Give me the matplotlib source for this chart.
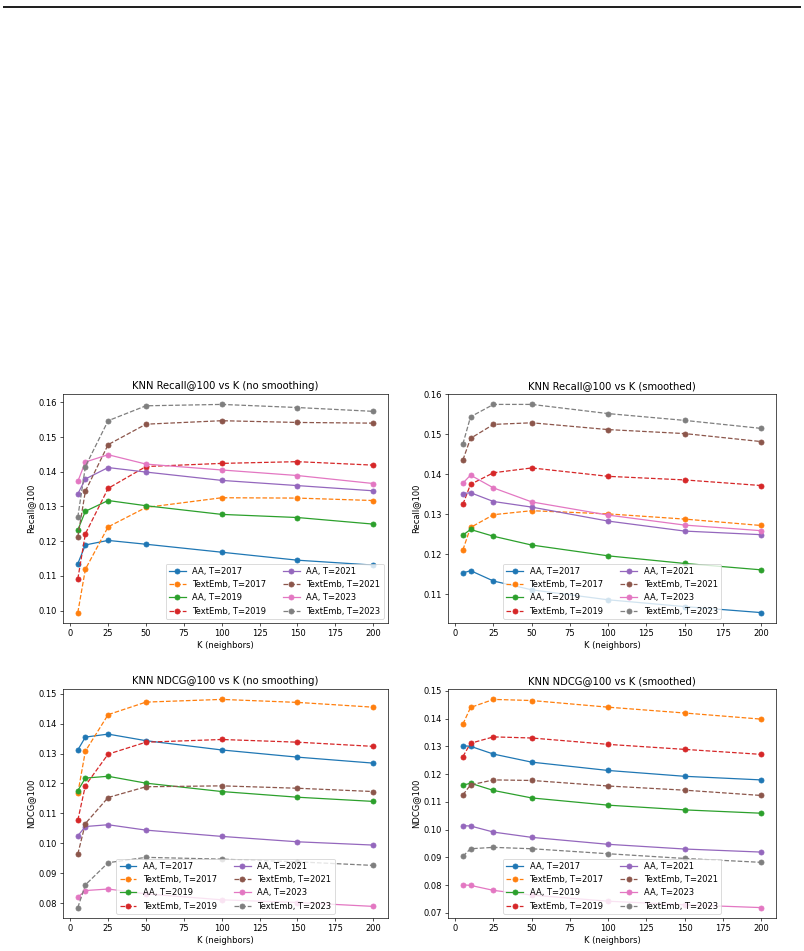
import matplotlib
matplotlib.use("Agg")
import matplotlib.pyplot as plt
from matplotlib.lines import Line2D

K = [5, 10, 25, 50, 100, 150, 200]
years = [2017, 2019, 2021, 2023]

# Recall@100, no smoothing
rec_raw_aa = {
    2017: [0.1135, 0.1189, 0.1202, 0.1191, 0.1168, 0.1145, 0.1131],
    2019: [0.1232, 0.1286, 0.1317, 0.1302, 0.1277, 0.1268, 0.1249],
    2021: [0.1336, 0.1379, 0.1412, 0.1399, 0.1375, 0.1360, 0.1345],
    2023: [0.1372, 0.1428, 0.1449, 0.1422, 0.1405, 0.1389, 0.1366],
}
rec_raw_te = {
    2017: [0.0994, 0.1119, 0.1241, 0.1297, 0.1325, 0.1324, 0.1317],
    2019: [0.1091, 0.1221, 0.1352, 0.1415, 0.1424, 0.1429, 0.1419],
    2021: [0.1212, 0.1344, 0.1478, 0.1537, 0.1547, 0.1542, 0.1540],
    2023: [0.1269, 0.1415, 0.1547, 0.1590, 0.1594, 0.1585, 0.1574],
}

# Recall@100, smoothed
rec_sm_aa = {
    2017: [0.1153, 0.1159, 0.1133, 0.1111, 0.1086, 0.1069, 0.1054],
    2019: [0.1248, 0.1262, 0.1245, 0.1223, 0.1196, 0.1177, 0.1161],
    2021: [0.1352, 0.1354, 0.1332, 0.1318, 0.1283, 0.1258, 0.1249],
    2023: [0.1378, 0.1398, 0.1366, 0.1331, 0.1298, 0.1273, 0.1259],
}
rec_sm_te = {
    2017: [0.1211, 0.1267, 0.1299, 0.1309, 0.1301, 0.1288, 0.1272],
    2019: [0.1325, 0.1375, 0.1404, 0.1416, 0.1395, 0.1386, 0.1372],
    2021: [0.1436, 0.1490, 0.1525, 0.1529, 0.1512, 0.1502, 0.1482],
    2023: [0.1476, 0.1544, 0.1575, 0.1575, 0.1552, 0.1535, 0.1515],
}

# NDCG@100, no smoothing
ndcg_raw_aa = {
    2017: [0.1312, 0.1355, 0.1365, 0.1343, 0.1312, 0.1288, 0.1268],
    2019: [0.1176, 0.1218, 0.1224, 0.1201, 0.1173, 0.1154, 0.1140],
    2021: [0.1025, 0.1056, 0.1062, 0.1044, 0.1023, 0.1005, 0.0994],
    2023: [0.0820, 0.0842, 0.0847, 0.0831, 0.0811, 0.0802, 0.0789],
}
ndcg_raw_te = {
    2017: [0.1167, 0.1308, 0.1430, 0.1472, 0.1481, 0.1471, 0.1455],
    2019: [0.1077, 0.1193, 0.1298, 0.1338, 0.1347, 0.1338, 0.1324],
    2021: [0.0964, 0.1066, 0.1153, 0.1189, 0.1192, 0.1184, 0.1173],
    2023: [0.0785, 0.0861, 0.0935, 0.0953, 0.0947, 0.0938, 0.0926],
}

# NDCG@100, smoothed
ndcg_sm_aa = {
    2017: [0.1302, 0.1300, 0.1272, 0.1243, 0.1213, 0.1192, 0.1179],
    2019: [0.1160, 0.1167, 0.1141, 0.1114, 0.1088, 0.1071, 0.1059],
    2021: [0.1014, 0.1013, 0.0991, 0.0972, 0.0947, 0.0930, 0.0919],
    2023: [0.0801, 0.0799, 0.0781, 0.0764, 0.0742, 0.0729, 0.0719],
}
ndcg_sm_te = {
    2017: [0.1380, 0.1440, 0.1469, 0.1465, 0.1441, 0.1420, 0.1398],
    2019: [0.1263, 0.1311, 0.1334, 0.1330, 0.1307, 0.1289, 0.1271],
    2021: [0.1125, 0.1161, 0.1179, 0.1177, 0.1157, 0.1142, 0.1123],
    2023: [0.0904, 0.0931, 0.0936, 0.0931, 0.0913, 0.0896, 0.0882],
}

panels = [
    ("KNN Recall@100 vs K (no smoothing)", "Recall@100", rec_raw_aa, rec_raw_te, "lower right",
     [0.0784, 0.3449, 0.4042, 0.2408]),
    ("KNN Recall@100 vs K (smoothed)", "Recall@100", rec_sm_aa, rec_sm_te, "lower center",
     [0.5572, 0.3449, 0.4080, 0.2408]),
    ("KNN NDCG@100 vs K (no smoothing)", "NDCG@100", ndcg_raw_aa, ndcg_raw_te, "lower center",
     [0.0784, 0.0347, 0.4042, 0.2408]),
    ("KNN NDCG@100 vs K (smoothed)", "NDCG@100", ndcg_sm_aa, ndcg_sm_te, "lower center",
     [0.5572, 0.0347, 0.4080, 0.2408]),
]

colors = plt.rcParams["axes.prop_cycle"].by_key()["color"]

DPI = 60
fig = plt.figure(figsize=(804 / DPI, 951 / DPI), dpi=DPI)

# thin rule at the top of the page
fig.add_artist(Line2D([0.005, 0.995], [0.9925, 0.9925], color="#222222", lw=2.4))

for title, ylabel, aa, te, loc, rect in panels:
    ax = fig.add_axes(rect)
    i = 0
    for y in years:
        ax.plot(K, aa[y], marker="o", linestyle="-", color=colors[i], label=f"AA, T={y}")
        ax.plot(K, te[y], marker="o", linestyle="--", color=colors[i + 1], label=f"TextEmb, T={y}")
        i += 2
    ax.set_title(title)
    ax.set_xlabel("K (neighbors)")
    ax.set_ylabel(ylabel)
    ax.legend(loc=loc, ncol=2)

fig.savefig("out.png", dpi=DPI)
